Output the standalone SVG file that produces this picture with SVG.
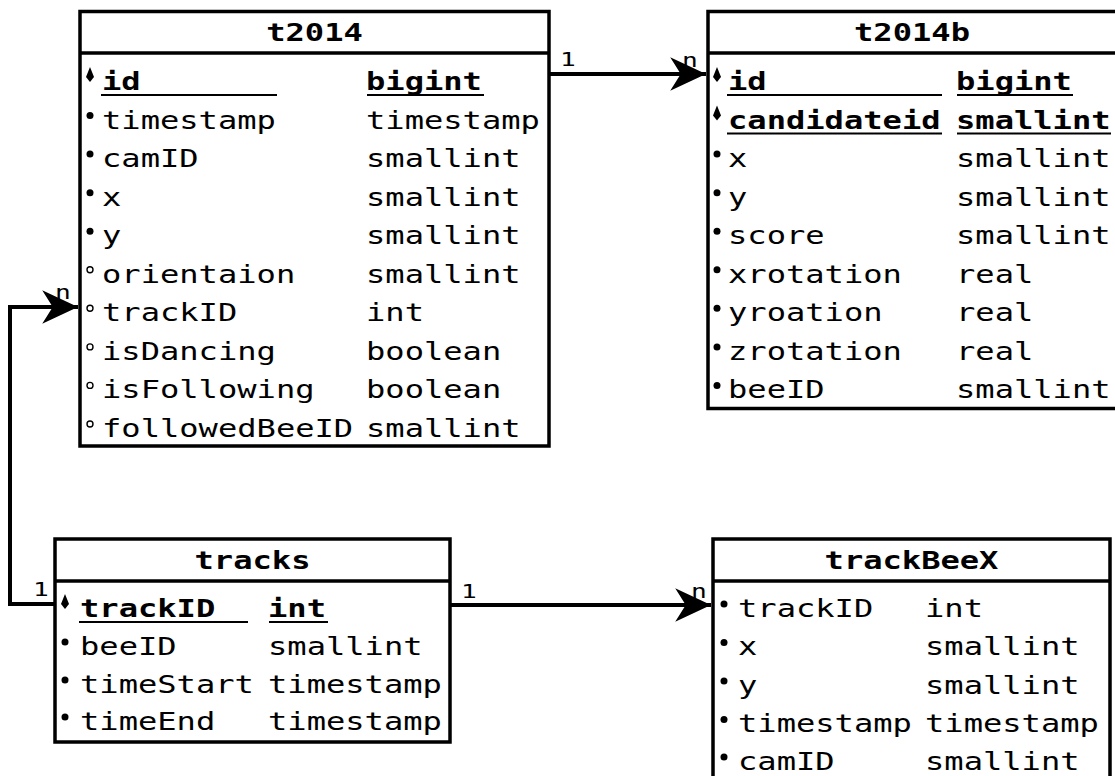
<svg xmlns="http://www.w3.org/2000/svg" width="1115" height="776" viewBox="0 0 1115 776">
  <defs>
    <style>
      .box { fill: #fff; stroke: #000; stroke-width: 3.5; }
      .sep { stroke: #000; stroke-width: 3.5; }
      .ul { stroke: #000; stroke-width: 2; }
      .tx { font-family: "DejaVu Sans Mono", "Liberation Mono", monospace; font-size: 24.5px; fill: #000; }
      .b { font-weight: bold; }
      .hd { text-anchor: middle; }
      .lbl { font-family: "DejaVu Sans Mono", "Liberation Mono", monospace; font-size: 20px; fill: #000; }
      .dot { fill: #000; }
      .hol { fill: #fff; stroke: #000; stroke-width: 1.4; }
      .wire { fill: none; stroke: #000; stroke-width: 4; }
    </style>
    <marker id="arrow" markerUnits="userSpaceOnUse" markerWidth="40" markerHeight="40" refX="0" refY="0" viewBox="-36 -18 38 36" orient="auto">
      <path d="M0,0 L-34,-16 L-24,0 L-34,16 Z" fill="#000"/>
    </marker>
    <polygon id="pk" points="0,-23 4,-13 0,-8 -4,-13" fill="#000"/>
  </defs>

  <rect width="1115" height="776" fill="#fff"/>

  <!-- relations -->
  <g id="connectors">
    <path class="wire" d="M549,74 H706" marker-end="url(#arrow)"/>
    <path class="wire" d="M55,604 H10 V307 H78" marker-end="url(#arrow)"/>
    <path class="wire" d="M450,605 H711" marker-end="url(#arrow)"/>
    <g transform="translate(560,66) scale(1.31,1)"><text class="lbl" x="0" y="0">1</text></g>
    <g transform="translate(682,67) scale(1.31,1)"><text class="lbl" x="0" y="0">n</text></g>
    <g transform="translate(33,596) scale(1.31,1)"><text class="lbl" x="0" y="0">1</text></g>
    <g transform="translate(55,299) scale(1.31,1)"><text class="lbl" x="0" y="0">n</text></g>
    <g transform="translate(461,598) scale(1.31,1)"><text class="lbl" x="0" y="0">1</text></g>
    <g transform="translate(691,598) scale(1.31,1)"><text class="lbl" x="0" y="0">n</text></g>
  </g>

  <!-- table t2014 -->
  <g id="t2014">
    <rect class="box" x="80" y="11.5" width="469" height="434.5"/>
    <line class="sep" x1="80" y1="53" x2="549" y2="53"/>
    <g transform="translate(314.5,0) scale(1.31,1)"><text class="tx b hd" x="0" y="41">t2014</text></g>
    <use href="#pk" x="90" y="90"/>
    <circle class="dot" cx="90" cy="115.6" r="3.5"/>
    <circle class="dot" cx="90" cy="154.1" r="3.5"/>
    <circle class="dot" cx="90" cy="192.7" r="3.5"/>
    <circle class="dot" cx="90" cy="231.2" r="3.5"/>
    <circle class="hol" cx="90" cy="269.8" r="3"/>
    <circle class="hol" cx="90" cy="308.3" r="3"/>
    <circle class="hol" cx="90" cy="346.9" r="3"/>
    <circle class="hol" cx="90" cy="385.4" r="3"/>
    <circle class="hol" cx="90" cy="424" r="3"/>
    <g transform="translate(102,0) scale(1.31,1)">
      <text class="tx b" x="0" y="90">id</text>
      <text class="tx" x="0" y="128.6">timestamp</text>
      <text class="tx" x="0" y="167.1">camID</text>
      <text class="tx" x="0" y="205.7">x</text>
      <text class="tx" x="0" y="244.2">y</text>
      <text class="tx" x="0" y="282.8">orientaion</text>
      <text class="tx" x="0" y="321.3">trackID</text>
      <text class="tx" x="0" y="359.9">isDancing</text>
      <text class="tx" x="0" y="398.4">isFollowing</text>
      <text class="tx" x="0" y="437">followedBeeID</text>
    </g>
    <g transform="translate(366,0) scale(1.31,1)">
      <text class="tx b" x="0" y="90">bigint</text>
      <text class="tx" x="0" y="128.6">timestamp</text>
      <text class="tx" x="0" y="167.1">smallint</text>
      <text class="tx" x="0" y="205.7">smallint</text>
      <text class="tx" x="0" y="244.2">smallint</text>
      <text class="tx" x="0" y="282.8">smallint</text>
      <text class="tx" x="0" y="321.3">int</text>
      <text class="tx" x="0" y="359.9">boolean</text>
      <text class="tx" x="0" y="398.4">boolean</text>
      <text class="tx" x="0" y="437">smallint</text>
    </g>
    <line class="ul" x1="101" y1="95" x2="277" y2="95"/>
    <line class="ul" x1="367" y1="95" x2="484" y2="95"/>
  </g>

  <!-- table t2014b -->
  <g id="t2014b">
    <rect class="box" x="708" y="11.5" width="420" height="397"/>
    <line class="sep" x1="708" y1="53" x2="1128" y2="53"/>
    <g transform="translate(912,0) scale(1.31,1)"><text class="tx b hd" x="0" y="41">t2014b</text></g>
    <use href="#pk" x="717" y="90"/>
    <use href="#pk" x="717" y="128.6"/>
    <circle class="dot" cx="717" cy="154.1" r="3.5"/>
    <circle class="dot" cx="717" cy="192.7" r="3.5"/>
    <circle class="dot" cx="717" cy="231.2" r="3.5"/>
    <circle class="dot" cx="717" cy="269.8" r="3.5"/>
    <circle class="dot" cx="717" cy="308.3" r="3.5"/>
    <circle class="dot" cx="717" cy="346.9" r="3.5"/>
    <circle class="dot" cx="717" cy="385.4" r="3.5"/>
    <g transform="translate(728,0) scale(1.31,1)">
      <text class="tx b" x="0" y="90">id</text>
      <text class="tx b" x="0" y="128.6">candidateid</text>
      <text class="tx" x="0" y="167.1">x</text>
      <text class="tx" x="0" y="205.7">y</text>
      <text class="tx" x="0" y="244.2">score</text>
      <text class="tx" x="0" y="282.8">xrotation</text>
      <text class="tx" x="0" y="321.3">yroation</text>
      <text class="tx" x="0" y="359.9">zrotation</text>
      <text class="tx" x="0" y="398.4">beeID</text>
    </g>
    <g transform="translate(956,0) scale(1.31,1)">
      <text class="tx b" x="0" y="90">bigint</text>
      <text class="tx b" x="0" y="128.6">smallint</text>
      <text class="tx" x="0" y="167.1">smallint</text>
      <text class="tx" x="0" y="205.7">smallint</text>
      <text class="tx" x="0" y="244.2">smallint</text>
      <text class="tx" x="0" y="282.8">real</text>
      <text class="tx" x="0" y="321.3">real</text>
      <text class="tx" x="0" y="359.9">real</text>
      <text class="tx" x="0" y="398.4">smallint</text>
    </g>
    <line class="ul" x1="727" y1="95" x2="942" y2="95"/>
    <line class="ul" x1="957" y1="95" x2="1073" y2="95"/>
    <line class="ul" x1="727" y1="133.6" x2="942" y2="133.6"/>
    <line class="ul" x1="957" y1="133.6" x2="1111" y2="133.6"/>
  </g>

  <!-- table tracks -->
  <g id="tracks">
    <rect class="box" x="55" y="539" width="395" height="203"/>
    <line class="sep" x1="55" y1="581" x2="450" y2="581"/>
    <g transform="translate(252.5,0) scale(1.31,1)"><text class="tx b hd" x="0" y="569">tracks</text></g>
    <use href="#pk" x="65" y="617"/>
    <circle class="dot" cx="65" cy="642" r="3.5"/>
    <circle class="dot" cx="65" cy="680" r="3.5"/>
    <circle class="dot" cx="65" cy="717" r="3.5"/>
    <g transform="translate(80,0) scale(1.31,1)">
      <text class="tx b" x="0" y="617">trackID</text>
      <text class="tx" x="0" y="655">beeID</text>
      <text class="tx" x="0" y="693">timeStart</text>
      <text class="tx" x="0" y="730">timeEnd</text>
    </g>
    <g transform="translate(268,0) scale(1.31,1)">
      <text class="tx b" x="0" y="617">int</text>
      <text class="tx" x="0" y="655">smallint</text>
      <text class="tx" x="0" y="693">timestamp</text>
      <text class="tx" x="0" y="730">timestamp</text>
    </g>
    <line class="ul" x1="79" y1="622" x2="248" y2="622"/>
    <line class="ul" x1="269" y1="622" x2="328" y2="622"/>
  </g>

  <!-- table trackBeeX -->
  <g id="trackBeeX">
    <rect class="box" x="713" y="539" width="397" height="260"/>
    <line class="sep" x1="713" y1="581" x2="1110" y2="581"/>
    <g transform="translate(911.5,0) scale(1.31,1)"><text class="tx b hd" x="0" y="569">trackBeeX</text></g>
    <circle class="dot" cx="724" cy="604" r="3.5"/>
    <circle class="dot" cx="724" cy="642.5" r="3.5"/>
    <circle class="dot" cx="724" cy="681" r="3.5"/>
    <circle class="dot" cx="724" cy="719.5" r="3.5"/>
    <circle class="dot" cx="724" cy="757" r="3.5"/>
    <g transform="translate(738,0) scale(1.31,1)">
      <text class="tx" x="0" y="617">trackID</text>
      <text class="tx" x="0" y="655.5">x</text>
      <text class="tx" x="0" y="694">y</text>
      <text class="tx" x="0" y="732.5">timestamp</text>
      <text class="tx" x="0" y="770">camID</text>
    </g>
    <g transform="translate(925,0) scale(1.31,1)">
      <text class="tx" x="0" y="617">int</text>
      <text class="tx" x="0" y="655.5">smallint</text>
      <text class="tx" x="0" y="694">smallint</text>
      <text class="tx" x="0" y="732.5">timestamp</text>
      <text class="tx" x="0" y="770">smallint</text>
    </g>
  </g>
</svg>
